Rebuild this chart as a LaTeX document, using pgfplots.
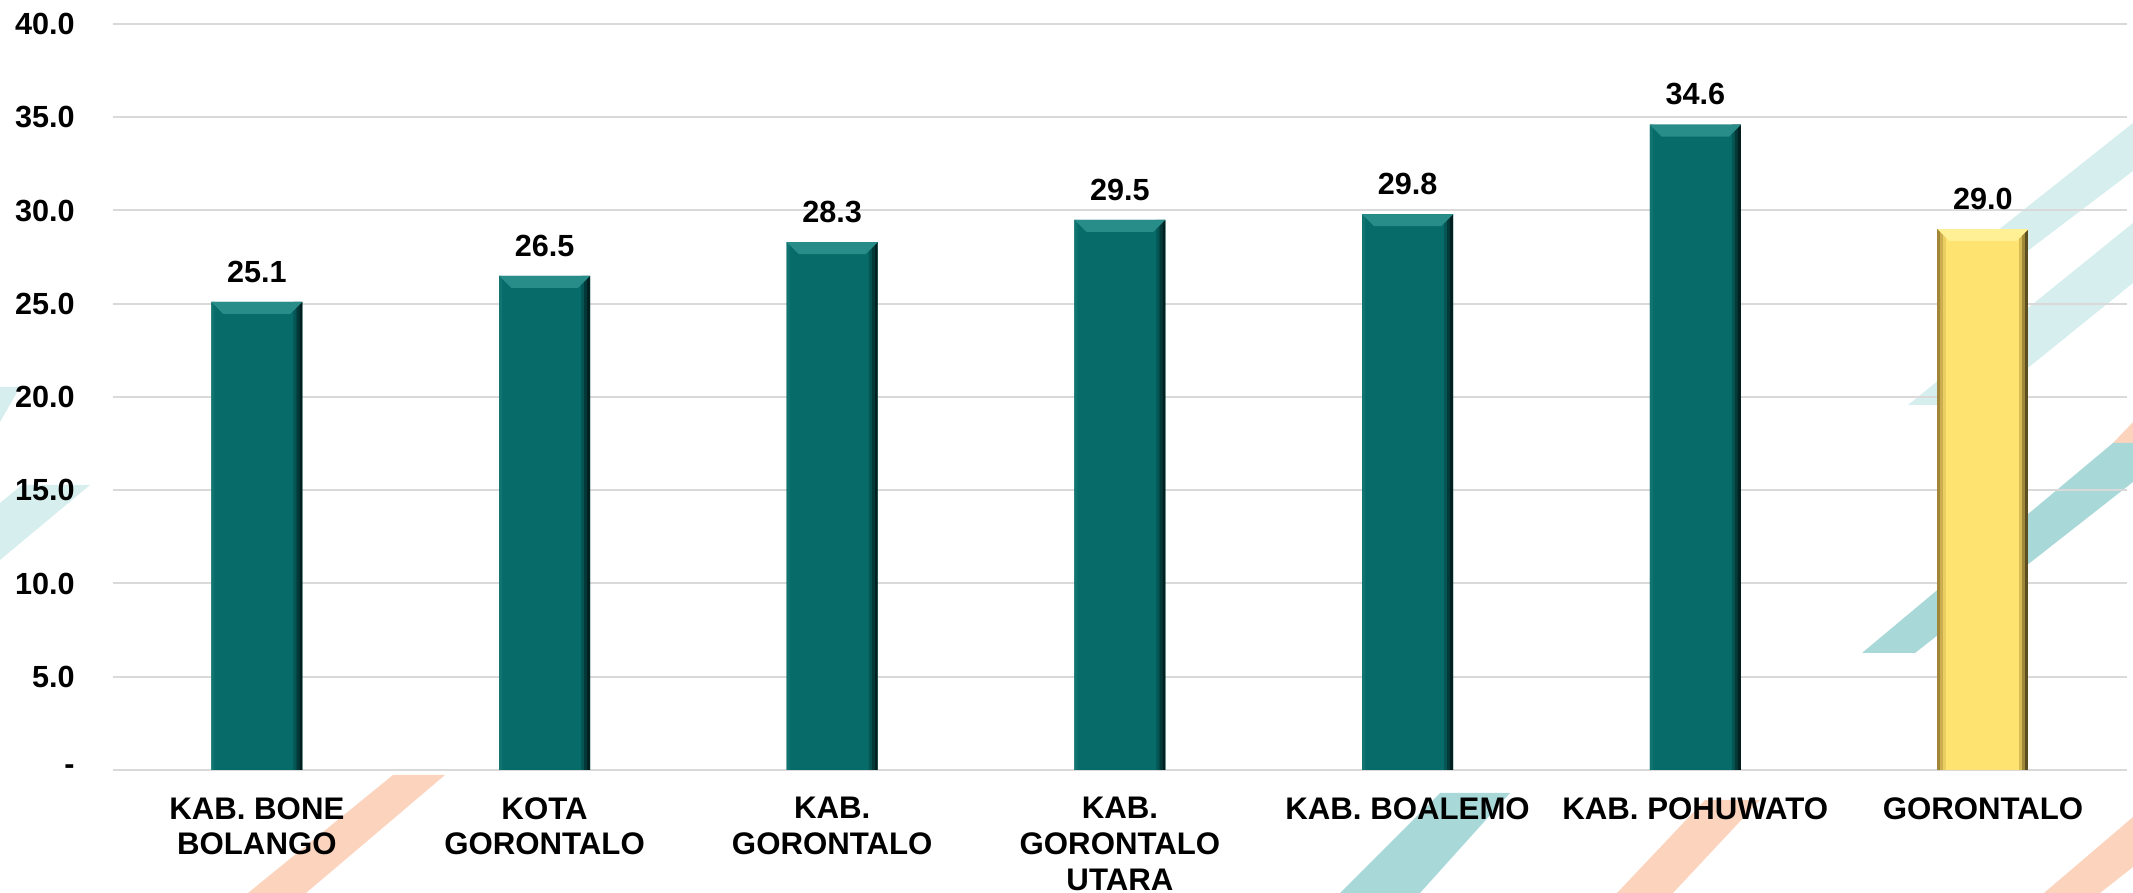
\documentclass[border=0pt]{standalone}
\usepackage{fontspec}
\setmainfont{Liberation Sans}
\usepackage{pgfplots}
\usepackage{pgfplotstable}
\pgfplotsset{compat=1.18}

\definecolor{tealbar}{RGB}{7,108,105}
\definecolor{tealtop}{RGB}{40,141,137}
\definecolor{tealL}{RGB}{18,116,113}
\definecolor{tealR1}{RGB}{5,86,84}
\definecolor{tealR2}{RGB}{3,58,57}
\definecolor{tealR3}{RGB}{2,32,32}
\definecolor{yelbar}{RGB}{255,227,112}
\definecolor{yeltop}{RGB}{255,240,150}
\definecolor{yelL1}{RGB}{162,134,56}
\definecolor{yelL2}{RGB}{202,174,80}
\definecolor{yelL3}{RGB}{234,206,98}
\definecolor{yelR1}{RGB}{215,188,85}
\definecolor{yelR2}{RGB}{160,136,58}
\definecolor{yelR3}{RGB}{92,78,32}
\definecolor{lteal}{RGB}{214,238,238}
\definecolor{mteal}{RGB}{168,216,215}
\definecolor{peach}{RGB}{252,212,190}
\definecolor{gridgray}{RGB}{217,217,217}

\newcommand\lbl{\fontsize{15.3}{18}\selectfont\bfseries}
\newcommand\catlbl{\fontsize{15.6}{17.85}\selectfont\bfseries}

\pgfdeclareplotmark{bevtop}{%
  \pgfpathmoveto{\pgfqpoint{-22.75pt}{0pt}}%
  \pgfpathlineto{\pgfqpoint{22.75pt}{0pt}}%
  \pgfpathlineto{\pgfqpoint{16.75pt}{-6pt}}%
  \pgfpathlineto{\pgfqpoint{-16.75pt}{-6pt}}%
  \pgfpathclose
  \pgfusepathqfill}

\pgfplotstableread{
x y
0 25.1
1 26.5
2 28.3
3 29.5
4 29.8
5 34.6
}\tealdata
\pgfplotstableread{
x y
6 29.0
}\yeldata

\pgfplotsset{
  strip/.style 2 args={ybar, bar width=1.5pt, bar shift=#1, fill=#2, draw=none, forget plot},
}

\begin{document}
\begin{tikzpicture}
% decorative background stripes (coordinates in reference pixels)
\begin{scope}[shift={(-56.5pt,385pt)}, x=0.5pt, y=-0.5pt]
  \fill[lteal] (0,503) -- (22,485) -- (90,485) -- (0,560) -- cycle;
  \fill[lteal] (0,387) -- (20,387) -- (0,422) -- cycle;
  \fill[lteal] (1958,262) -- (2013,262) -- (2133,171) -- (2133,123) -- cycle;
  \fill[lteal] (1908,405) -- (1982,405) -- (2133,283) -- (2133,223) -- cycle;
  \fill[peach] (2113,443) -- (2133,422) -- (2133,443) -- cycle;
  \fill[mteal] (1862,653) -- (1915,653) -- (2133,482) -- (2133,443) -- (2113,443) -- cycle;
  \fill[mteal] (1340,893) -- (1420,893) -- (1510,793) -- (1440,793) -- cycle;
  \fill[peach] (248,893) -- (306,893) -- (445,775) -- (393,775) -- cycle;
  \fill[peach] (1617,893) -- (1673,893) -- (1760,800) -- (1705,800) -- cycle;
  \fill[peach] (2044,893) -- (2133,817) -- (2133,867) -- (2100,893) -- cycle;
\end{scope}

\begin{axis}[
  at={(0,0)}, anchor=south west,
  scale only axis, width=1007pt, height=373pt,
  xmin=-0.5, xmax=6.5, ymin=0, ymax=40,
  xtick={0,1,2,3,4,5,6},
  xticklabels={{KAB. BONE\\BOLANGO},{KOTA\\GORONTALO},{KAB.\\GORONTALO},{KAB.\\GORONTALO\\UTARA},{KAB. BOALEMO},{KAB. POHUWATO},{GORONTALO}},
  xticklabel style={font=\catlbl, align=center, anchor=north, inner sep=0pt, yshift=-13.5pt},
  ytick={0,5,10,15,20,25,30,35,40},
  yticklabels={{-\hspace{14.5pt}},5.0,10.0,15.0,20.0,25.0,30.0,35.0,40.0},
  yticklabel style={font=\lbl, anchor=east, inner sep=0pt, xshift=-19pt},
  ymajorgrids, grid style={gridgray, line width=1pt},
  axis line style={draw=none},
  major tick length=0pt,
  clip=false,
  /pgf/number format/assume math mode=true,
  every node near coord/.append style={font=\lbl, anchor=south, inner sep=0pt, yshift=9.5pt, text=black},
]
% main bars
\addplot[ybar, bar width=45.5pt, bar shift=0pt, fill=tealbar, draw=none,
  nodes near coords={\pgfmathprintnumber[fixed,fixed zerofill,precision=1]{\pgfplotspointmeta}}] table {\tealdata};
\addplot[ybar, bar width=45.5pt, bar shift=0pt, fill=yelbar, draw=none,
  nodes near coords={\pgfmathprintnumber[fixed,fixed zerofill,precision=1]{\pgfplotspointmeta}}] table {\yeldata};
% bevel side strips (teal)
\addplot[strip={-22pt}{tealL}] table {\tealdata};
\addplot[strip={19pt}{tealR1}] table {\tealdata};
\addplot[strip={20.5pt}{tealR2}] table {\tealdata};
\addplot[strip={22pt}{tealR3}] table {\tealdata};
% bevel side strips (yellow)
\addplot[strip={-22pt}{yelL1}] table {\yeldata};
\addplot[strip={-20.5pt}{yelL2}] table {\yeldata};
\addplot[strip={-19pt}{yelL3}] table {\yeldata};
\addplot[strip={19pt}{yelR1}] table {\yeldata};
\addplot[strip={20.5pt}{yelR2}] table {\yeldata};
\addplot[strip={22pt}{yelR3}] table {\yeldata};
% bevel tops
\addplot[only marks, mark=bevtop, mark options={fill=tealtop, draw=none}, forget plot] table {\tealdata};
\addplot[only marks, mark=bevtop, mark options={fill=yeltop, draw=none}, forget plot] table {\yeldata};
\end{axis}
\pgfresetboundingbox
\path[use as bounding box] (-56.5pt,-61.5pt) rectangle (1010pt,385pt);
\end{tikzpicture}
\end{document}
